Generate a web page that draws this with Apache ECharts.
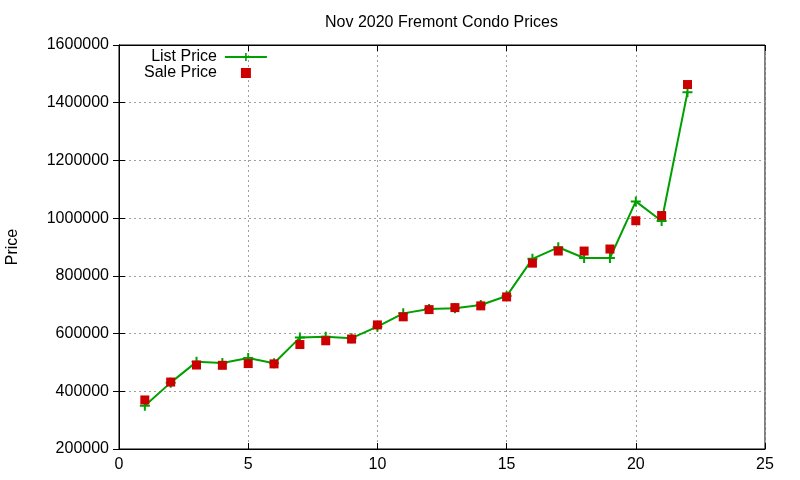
<!DOCTYPE html>
<html>
<head>
<meta charset="utf-8">
<script src="https://cdn.jsdelivr.net/npm/echarts@6/dist/echarts.min.js"></script>
<style>html,body{margin:0;padding:0;background:#fff}#c{width:800px;height:480px}</style>
</head>
<body>
<div id="c"></div>
<script>
const titleText = 'Nov 2020 Fremont Condo Prices';
const yName = 'Price';
const listings = [1,2,3,4,5,6,7,8,9,10,11,12,13,14,15,16,17,18,19,20,21,22];
const listPrice = [350000, 430000, 502000, 498000, 515000, 497000, 586000, 589000, 584000, 624000, 670000, 685000, 688000, 699000, 730000, 859000, 899000, 862000, 862000, 1058000, 990000, 1436000];
const salePrice = [370000, 432000, 491000, 490000, 496000, 495000, 562000, 575000, 581000, 630000, 658000, 683000, 690000, 696000, 727000, 844000, 886000, 886000, 893000, 991000, 1009000, 1463000];

const FONT = 'Liberation Sans';
const FS = 16;
const plus = 'path://M0,4L10,4L10,6L0,6ZM4,0L6,0L6,10L4,10Z';
const square = 'path://M0,0L10,0L10,10L0,10Z';
const gridLine = {show: true, lineStyle: {color: '#a0a0a0', type: [2, 3], width: 1}};
const axLine = {show: true, lineStyle: {color: '#000', width: 1}};
const tick = {show: true, inside: true, length: 6, lineStyle: {color: '#000'}};
const lbl = {color: '#000', fontFamily: FONT, fontSize: FS, formatter: v => String(v)};

const chart = echarts.init(document.getElementById('c'), null, {renderer: 'canvas'});
chart.setOption({
  animation: false,
  backgroundColor: '#fff',
  title: {text: titleText, left: 320, top: 10,
    textStyle: {fontFamily: FONT, fontSize: FS, fontWeight: 'normal', color: '#000'}},
  grid: {left: 119, right: 35, top: 45, bottom: 31, show: true, borderColor: '#000', borderWidth: 1,
    outerBoundsMode: 'none', containLabel: false},
  legend: {
    orient: 'vertical', align: 'right', left: 144, top: 49, padding: 0,
    itemWidth: 42, itemHeight: 10, itemGap: 0,
    textStyle: {fontFamily: FONT, fontSize: FS, color: '#000', padding: [0, 3, 0, 0]},
    data: [{name: 'List Price'}, {name: 'Sale Price', icon: square}]
  },
  xAxis: [
    {type: 'value', min: 0, max: 25, interval: 5, position: 'bottom',
     axisLine: axLine, axisTick: tick, splitLine: gridLine,
     axisLabel: Object.assign({margin: 8}, lbl)},
    {type: 'value', min: 0, max: 25, interval: 5, position: 'top',
     axisLine: axLine, axisTick: tick, splitLine: {show: false}, axisLabel: {show: false}}
  ],
  yAxis: [
    {type: 'value', min: 200000, max: 1600000, interval: 200000, position: 'left',
     name: yName, nameLocation: 'middle', nameGap: 98, nameRotate: 90,
     nameTextStyle: {fontFamily: FONT, fontSize: FS, color: '#000'},
     axisLine: axLine, axisTick: tick, splitLine: gridLine,
     axisLabel: Object.assign({margin: 10}, lbl)},
    {type: 'value', min: 200000, max: 1600000, interval: 200000, position: 'right',
     axisLine: axLine, axisTick: tick, splitLine: {show: false}, axisLabel: {show: false}}
  ],
  series: [
    {name: 'List Price', type: 'line', xAxisIndex: 0, yAxisIndex: 0,
     data: listings.map((x, i) => [x, listPrice[i]]),
     symbol: plus, symbolSize: 10, showAllSymbol: true,
     itemStyle: {color: '#00a000'}, lineStyle: {color: '#00a000', width: 2}, z: 2},
    {name: 'Sale Price', type: 'scatter', xAxisIndex: 0, yAxisIndex: 0,
     data: listings.map((x, i) => [x, salePrice[i]]),
     symbol: 'rect', symbolSize: 9,
     itemStyle: {color: '#cc0000', opacity: 1}, z: 3}
  ]
});
</script>
</body>
</html>
